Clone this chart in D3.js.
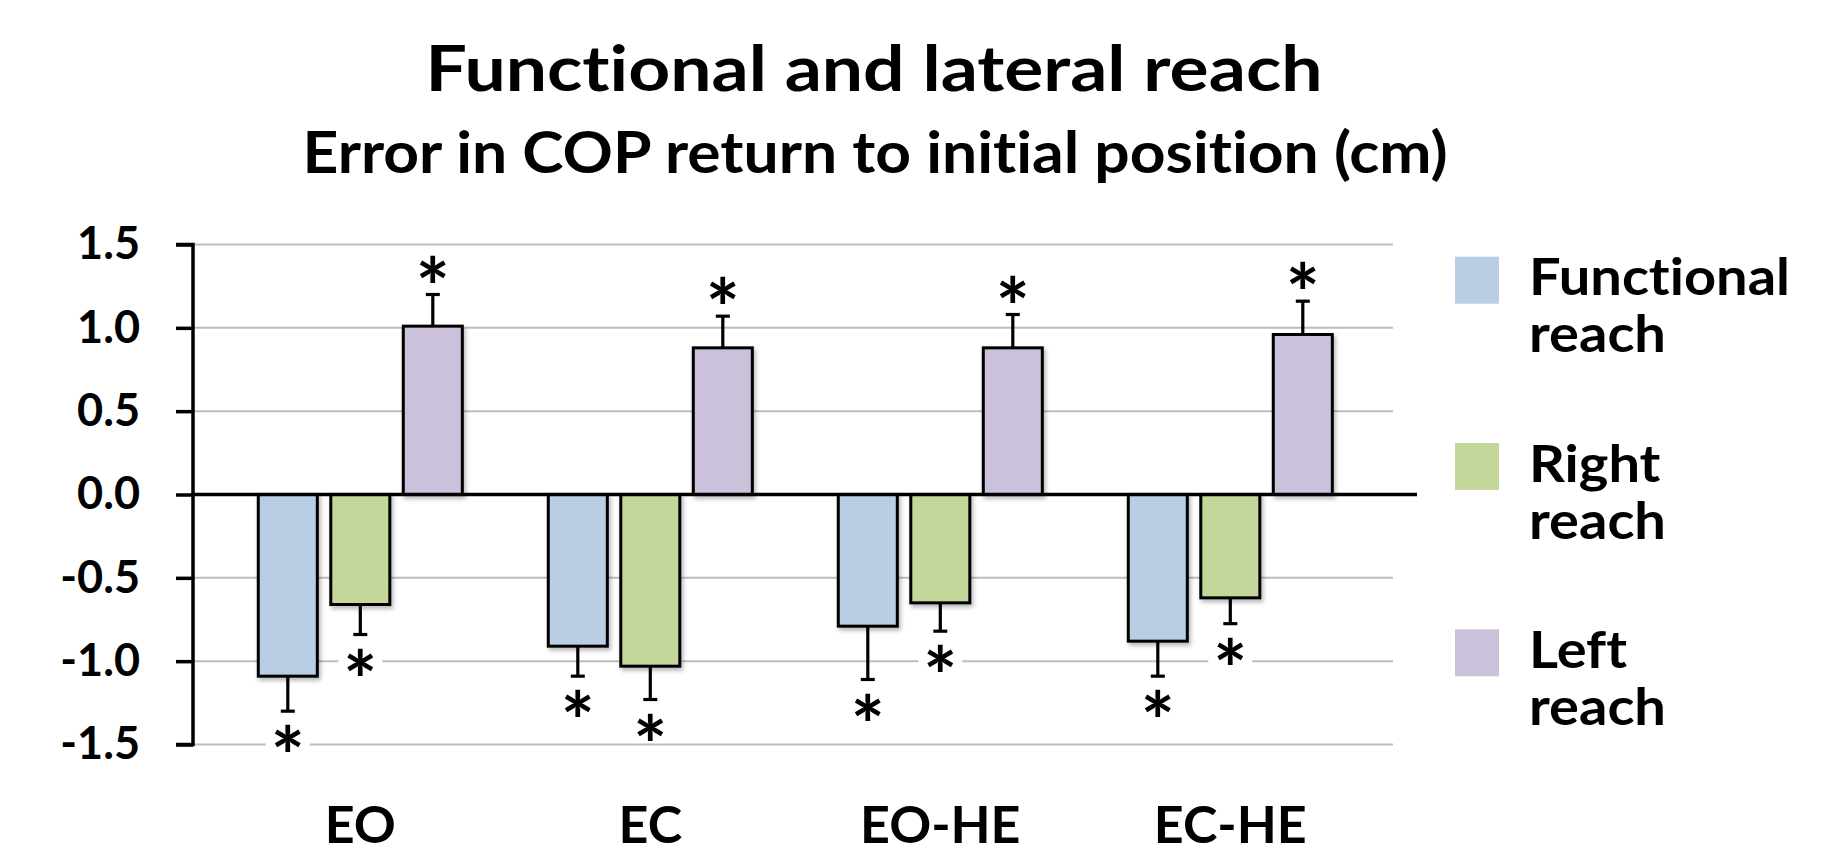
<!DOCTYPE html>
<html>
<head>
<meta charset="utf-8">
<script src="https://cdn.jsdelivr.net/npm/d3@7"></script>
<style>
  html, body { margin: 0; padding: 0; background: #fff; }
  svg { display: block; }
  text { font-family: Lato, "Open Sans", sans-serif; font-weight: 700; fill: #000; font-variant-ligatures: none; }
</style>
</head>
<body>
<svg id="chart" width="1838" height="853"></svg>
<script>
// ---- data ----
const categories = ["EO", "EC", "EO-HE", "EC-HE"];
const seriesNames = ["Functional reach", "Right reach", "Left reach"];
const legendLines = [["Functional", "reach"], ["Right", "reach"], ["Left", "reach"]];
const functionalReach = [-1.09, -0.91, -0.79, -0.88];
const functionalErr   = [0.21, 0.18, 0.32, 0.21];
const rightReach      = [-0.66, -1.03, -0.65, -0.62];
const rightErr        = [0.18, 0.20, 0.17, 0.155];
const leftReach       = [1.01, 0.88, 0.88, 0.96];
const leftErr         = [0.19, 0.19, 0.20, 0.20];
const yTicks = [1.5, 1.0, 0.5, 0.0, -0.5, -1.0, -1.5];
const yTickLabels = ["1.5", "1.0", "0.5", "0.0", "-0.5", "-1.0", "-1.5"];
const titleText = "Functional and lateral reach";
const subtitleText = "Error in COP return to initial position (cm)";

const seriesValues = [functionalReach, rightReach, leftReach];
const seriesErrors = [functionalErr, rightErr, leftErr];
const colors = ["#B9CDE5", "#C4D79B", "#CCC1DA"];

const svg = d3.select("#chart");

// shadow filter
const defs = svg.append("defs");
const f = defs.append("filter").attr("id", "shadow").attr("x", "-20%").attr("y", "-20%").attr("width", "150%").attr("height", "150%");
f.append("feDropShadow").attr("dx", 2).attr("dy", 3).attr("stdDeviation", 2).attr("flood-color", "#000").attr("flood-opacity", 0.28);

// scales
const axisX = 193, plotRight = 1417, gridRight = 1393;
const y = d3.scaleLinear().domain([-1.5, 1.5]).range([744.5, 244.5]);
const x0 = d3.scaleBand().domain(categories).range([215.3, 1375.3]).padding(0);
const x1 = d3.scaleBand().domain(seriesNames).range([36.25, 253.75]).paddingInner(0.186).paddingOuter(0.093);

// gridlines
svg.append("g").selectAll("line").data(yTicks.filter(d => d !== 0)).join("line")
  .attr("x1", axisX).attr("x2", gridRight)
  .attr("y1", d => y(d)).attr("y2", d => y(d))
  .attr("stroke", "#BDBDBD").attr("stroke-width", 2);

// y axis
const yAxis = d3.axisLeft(y).tickValues(yTicks).tickSize(17).tickPadding(36)
  .tickFormat((d, i) => yTickLabels[i]);
const ga = svg.append("g").attr("transform", `translate(${axisX},0)`).call(yAxis);
ga.select(".domain").attr("stroke", "#000").attr("stroke-width", 3.5).attr("d", `M-17,${y(1.5)}H0V${y(-1.5)}H-17`);
ga.selectAll(".tick line").attr("stroke", "#000").attr("stroke-width", 3.5);
ga.selectAll(".tick text").attr("font-size", 45).attr("font-family", "Lato, sans-serif").attr("font-weight", 700).attr("fill", "#000");

// flattened bar data
const bars = [];
categories.forEach((c, ci) => {
  seriesNames.forEach((s, si) => {
    bars.push({ cat: c, series: s, si, v: seriesValues[si][ci], e: seriesErrors[si][ci] });
  });
});
const bx = d => x0(d.cat) + x1(d.series);
const bw = x1.bandwidth();

// asterisk backgrounds + asterisks
const starFont = 80;
const starG = svg.append("g");
bars.forEach(d => {
  const end = d.v < 0 ? d.v - d.e : d.v + d.e;
  const cy = y(end) + (d.v < 0 ? 27 : -26);
  const cx = bx(d) + bw / 2;
  starG.append("rect").attr("x", cx - 22).attr("y", cy - 15).attr("width", 44).attr("height", 30).attr("fill", "#fff");
  starG.append("text").attr("x", cx).attr("y", cy + starFont * 0.6).attr("text-anchor", "middle")
    .attr("font-size", starFont).attr("font-weight", 900).text("*");
});

// error bars
const eg = svg.append("g").attr("stroke", "#000").attr("stroke-width", 3.2);
bars.forEach(d => {
  const cx = bx(d) + bw / 2;
  const end = d.v < 0 ? d.v - d.e : d.v + d.e;
  eg.append("line").attr("x1", cx).attr("x2", cx).attr("y1", y(d.v)).attr("y2", y(end));
  eg.append("line").attr("x1", cx - 7).attr("x2", cx + 7).attr("y1", y(end)).attr("y2", y(end));
});

// bars
svg.append("g").selectAll("rect").data(bars).join("rect")
  .attr("x", bx).attr("width", bw)
  .attr("y", d => y(Math.max(0, d.v)))
  .attr("height", d => Math.abs(y(d.v) - y(0)))
  .attr("fill", d => colors[d.si])
  .attr("stroke", "#000").attr("stroke-width", 3)
  .attr("filter", "url(#shadow)");

// zero line
svg.append("line").attr("x1", axisX).attr("x2", plotRight).attr("y1", y(0)).attr("y2", y(0))
  .attr("stroke", "#000").attr("stroke-width", 3.5);

// category labels
svg.append("g").selectAll("text").data(categories).join("text")
  .attr("x", d => x0(d) + x0.bandwidth() / 2).attr("y", 843)
  .attr("text-anchor", "middle").attr("font-size", 52).text(d => d);

// titles
function fit(sel, target) {
  const w = sel.node().getComputedTextLength();
  sel.attr("textLength", target).attr("lengthAdjust", "spacingAndGlyphs");
  return target / w;
}
const t1 = svg.append("text").attr("x", 874).attr("y", 91.4).attr("text-anchor", "middle").attr("font-size", 63).text(titleText);
fit(t1, 897);
const t2 = svg.append("text").attr("x", 875).attr("y", 172.5).attr("text-anchor", "middle").attr("font-size", 58).text(subtitleText);
fit(t2, 1145);

// legend
const lg = svg.append("g");
let k = null;
legendLines.forEach((lines, i) => {
  const top = 256.7 + i * 186.3;
  lg.append("rect").attr("x", 1455).attr("y", top).attr("width", 44).attr("height", 47).attr("fill", colors[i]);
  lines.forEach((ln, j) => {
    const t = lg.append("text").attr("x", 1529).attr("y", 295.4 + i * 186.3 + j * 57).attr("font-size", 52).text(ln);
    if (k === null) { k = fit(t, 261); }
    else { const w = t.node().getComputedTextLength(); t.attr("textLength", w * k).attr("lengthAdjust", "spacingAndGlyphs"); }
  });
});
</script>
</body>
</html>
